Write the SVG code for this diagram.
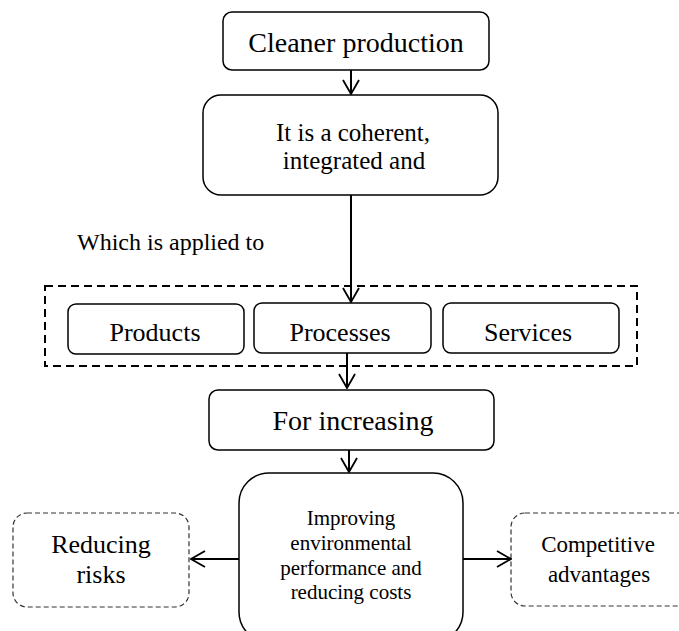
<svg xmlns="http://www.w3.org/2000/svg" width="679" height="631" viewBox="0 0 679 631">
<defs>
<style>
.box{fill:#fff;stroke:#000;stroke-width:1.5}
.dbox{fill:none;stroke:#000;stroke-width:2;stroke-dasharray:8 5}
.tbox{fill:#fff;stroke:#333;stroke-width:1.2;stroke-dasharray:5 3}
.t{font-family:"Liberation Serif","Times New Roman",serif;fill:#000;text-anchor:middle}
.conn{stroke:#000;stroke-width:2;fill:none}
</style>
<marker id="ah" viewBox="0 0 16 18" refX="15" refY="9" markerWidth="16" markerHeight="18" markerUnits="userSpaceOnUse" orient="auto">
<path d="M1,1 L15,9 L1,17" fill="none" stroke="#000" stroke-width="1.8"/>
</marker>
</defs>
<rect width="679" height="631" fill="#fff"/>
<g id="group-applied">
<rect class="dbox" x="45" y="286" width="592" height="80"/>
</g>
<g id="cleaner">
<rect class="box" x="223" y="12" width="266" height="58" rx="9"/>
<text class="t" x="356" y="52" font-size="28">Cleaner production</text>
</g>
<g id="coherent">
<rect class="box" x="203" y="95" width="295" height="100" rx="18"/>
<text class="t" x="353" y="141" font-size="25">It is a coherent,</text>
<text class="t" x="354" y="169" font-size="25">integrated and</text>
</g>
<g id="label-applied">
<text x="77" y="250" font-size="24" font-family="Liberation Serif, Times New Roman, serif">Which is applied to</text>
</g>
<g id="products">
<rect class="box" x="68" y="304" width="176" height="50" rx="8"/>
<text class="t" x="155" y="341" font-size="26">Products</text>
</g>
<g id="processes">
<rect class="box" x="254" y="303" width="177" height="50" rx="8"/>
<text class="t" x="340" y="341" font-size="26">Processes</text>
</g>
<g id="services">
<rect class="box" x="443" y="303" width="176" height="50" rx="8"/>
<text class="t" x="528" y="341" font-size="26">Services</text>
</g>
<g id="increasing">
<rect class="box" x="209" y="390" width="285" height="60" rx="9"/>
<text class="t" x="353" y="430" font-size="28">For increasing</text>
</g>
<g id="improving">
<rect class="box" x="239" y="473" width="224" height="169" rx="30"/>
<text class="t" x="351" y="525" font-size="21">Improving</text>
<text class="t" x="351" y="550" font-size="21">environmental</text>
<text class="t" x="351" y="575" font-size="21">performance and</text>
<text class="t" x="351" y="599" font-size="21">reducing costs</text>
</g>
<g id="risks">
<rect class="tbox" x="13" y="513" width="176" height="94" rx="14"/>
<text class="t" x="101" y="553" font-size="26">Reducing</text>
<text class="t" x="101" y="583" font-size="26">risks</text>
</g>
<g id="competitive">
<rect class="tbox" x="511" y="513" width="190" height="93" rx="14"/>
<text class="t" x="598" y="552" font-size="23">Competitive</text>
<text class="t" x="599" y="582" font-size="23">advantages</text>
</g>
<g id="connectors">
<line class="conn" x1="351" y1="70" x2="351" y2="94" marker-end="url(#ah)"/>
<line class="conn" x1="351" y1="195" x2="351" y2="302" marker-end="url(#ah)"/>
<line class="conn" x1="347" y1="353" x2="347" y2="388" marker-end="url(#ah)"/>
<line class="conn" x1="349" y1="450" x2="349" y2="472" marker-end="url(#ah)"/>
<line class="conn" x1="239" y1="559" x2="191" y2="559" marker-end="url(#ah)"/>
<line class="conn" x1="463" y1="559" x2="511" y2="559" marker-end="url(#ah)"/>
</g>
</svg>
